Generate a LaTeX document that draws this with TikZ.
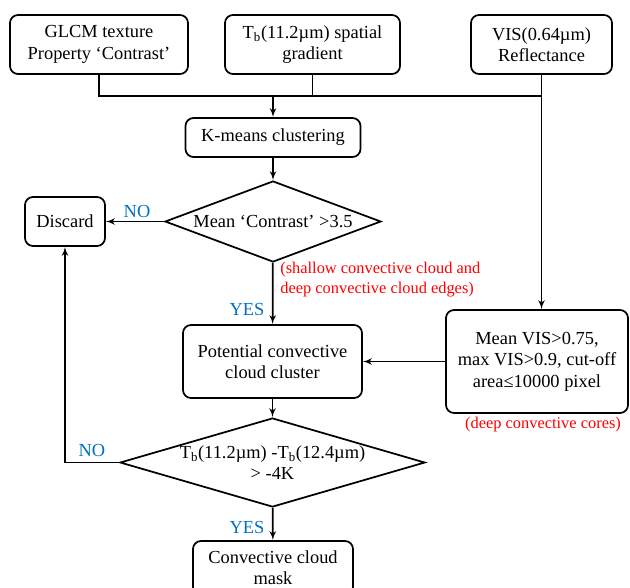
\documentclass[tikz,border=0pt]{standalone}
\usepackage{fontspec}
\setmainfont{Liberation Serif}
\usetikzlibrary{arrows,shapes}
\definecolor{yesblue}{RGB}{0,112,192}
\tikzstyle{proc} = [draw, rounded corners=6pt, align=center, inner sep=2pt]
\tikzstyle{decide} = [diamond, draw, inner sep=0pt, aspect=2.7]
\tikzstyle{answer} = [text=yesblue]
\tikzstyle{remark} = [text=red, align=left, font=\fontsize{12.3}{15}\selectfont]

\begin{document}
\begin{tikzpicture}[x=0.75pt,y=-0.75pt,>=latex',line width=1.3pt,font=\fontsize{13.8}{16}\selectfont]
    \useasboundingbox (0,0) rectangle (630,587);

    %inputs
    \node[proc, minimum width=133.5pt, minimum height=44.25pt] at (99,44.5) (glcm) {GLCM texture\\Property ‘Contrast’};
    \node[proc, minimum width=131.25pt, minimum height=44.25pt] at (312.5,44.5) (grad) {T\textsubscript{b}(11.2µm) spatial\\gradient};
    \node[proc, minimum width=105.75pt, minimum height=44.25pt] at (541.5,44.5) (vis) {VIS(0.64µm)\\Reflectance};
    \coordinate (join) at (273,96);
    \draw (glcm.south) -- (glcm.south |- join) -- (vis.south |- join);
    \draw (grad.south) -- (grad.south |- join);

    %clustering
    \node[proc, minimum width=131.25pt, minimum height=29.25pt] at (273,137.5) (kmeans) {K-means clustering};
    \path[->] (join) edge node {} (kmeans);

    %first test
    \node[decide, minimum width=162pt, minimum height=60.75pt] at (273,221.5) (contrast) {Mean ‘Contrast’ >3.5};
    \node[proc, minimum width=60pt, minimum height=36.75pt] at (65,221.5) (discard) {Discard};
    \path[->] (kmeans) edge node {} (contrast);
    \path[->] (contrast) edge node {} (discard);
    \node[answer] at (137,211) {NO};
    \node[remark, right] at (275,280) {(shallow convective cloud and\\deep convective cloud edges)};

    %cluster and cores
    \node[proc, minimum width=134.25pt, minimum height=54.75pt] at (272.5,361.5) (potential) {Potential convective\\cloud cluster};
    \node[proc, minimum width=136.5pt, minimum height=77.25pt] at (537,361.5) (cores) {Mean VIS>0.75,\\max VIS>0.9, cut-off\\area≤10000 pixel};
    \path[->] (contrast) edge node {} (potential);
    \node[answer] at (247,309) {YES};
    \path[->] (vis.south) edge node {} (vis.south |- cores.north);
    \path[->] (cores) edge node {} (potential);
    \node[remark] at (543,425) {(deep convective cores)};

    %second test
    \node[decide, minimum width=228.75pt, minimum height=66.75pt] at (272.5,462.5) (btd) {};
    \node[align=center] at (btd) {T\textsubscript{b}(11.2µm) -T\textsubscript{b}(12.4µm)\\> -4K};
    \path[->] (potential) edge node {} (btd);
    \draw[->] (btd.west) -| (discard.south);
    \node[answer] at (92,450) {NO};

    %result
    \node[proc, minimum width=120pt, minimum height=40.5pt] at (273,568) (mask) {Convective cloud\\mask};
    \path[->] (btd) edge node {} (mask);
    \node[answer] at (247,527) {YES};

  \end{tikzpicture}
\end{document}
